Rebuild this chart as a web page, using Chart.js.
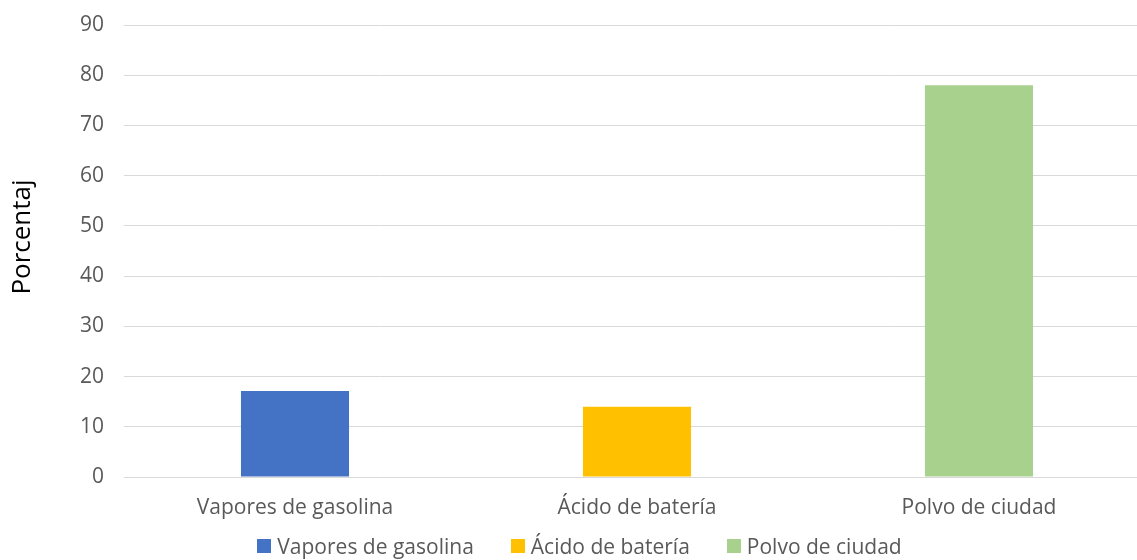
<!DOCTYPE html>
<html>
<head>
<meta charset="utf-8">
<script src="https://cdn.jsdelivr.net/npm/chart.js@4.4.1/dist/chart.umd.min.js"></script>
<style>
  html, body { margin: 0; padding: 0; background: #fff; overflow: hidden; }
  #wrap { width: 1158px; height: 560px; }
</style>
</head>
<body>
<div id="wrap"><canvas id="grafico"></canvas></div>
<script>
const categorias = ['Vapores de gasolina', 'Ácido de batería', 'Polvo de ciudad'];
const porcentajes = [17.1, 14, 78];
const colores = ['#4472c4', '#ffc000', '#a9d18e'];
const ticksY = [0, 10, 20, 30, 40, 50, 60, 70, 80, 90];
const tituloY = 'Porcentaj';

const gris = '#595959';
const fuente = 'Open Sans';

// legend and y title drawn by hand so they sit where Excel put them
const textosPropios = {
  id: 'textosPropios',
  afterDraw: function(chart) {
    const c = chart.ctx;
    const caja = 14, hueco = 6, separacion = 37;
    const centroX = 579.5, centroY = 548;
    c.save();
    c.font = '21px "' + fuente + '"';
    c.textBaseline = 'middle';
    c.textAlign = 'left';
    const anchos = categorias.map(function(t) { return c.measureText(t).width; });
    let total = separacion * (categorias.length - 1);
    anchos.forEach(function(w) { total += caja + hueco + w; });
    let x = centroX - total / 2;
    categorias.forEach(function(t, i) {
      c.fillStyle = colores[i];
      c.fillRect(Math.round(x), centroY - 9, caja, caja);
      x += caja + hueco;
      c.fillStyle = gris;
      c.fillText(t, x, centroY);
      x += anchos[i] + separacion;
    });
    c.restore();

    // vertical axis title
    c.save();
    c.translate(23, 237);
    c.rotate(-Math.PI / 2);
    c.font = '26px "' + fuente + '"';
    c.textAlign = 'center';
    c.textBaseline = 'middle';
    c.fillStyle = '#000';
    c.fillText(tituloY, 0, 0);
    c.restore();
  }
};

const ctx = document.getElementById('grafico').getContext('2d');
const barChart = new Chart(ctx, {
  type: 'bar',
  data: {
    labels: categorias,
    datasets: [{
      data: porcentajes,
      backgroundColor: colores,
      borderWidth: 0,
      categoryPercentage: 1,
      barPercentage: 0.316
    }]
  },
  options: {
    responsive: true,
    maintainAspectRatio: false,
    animation: false,
    layout: { padding: { top: 0, left: 0, right: 8, bottom: 36 } },
    plugins: {
      tooltip: { enabled: false },
      legend: { display: false }
    },
    scales: {
      x: {
        grid: { display: false, drawTicks: false },
        border: { display: false },
        afterFit: function(scale) {
          scale.height = 47;
        },
        ticks: {
          color: gris,
          padding: 18,
          maxRotation: 0,
          minRotation: 0,
          autoSkip: false,
          font: { family: fuente, size: 21 }
        }
      },
      y: {
        min: 0,
        max: 90,
        afterBuildTicks: function(scale) {
          scale.ticks = ticksY.map(function(v) { return { value: v }; });
        },
        afterFit: function(scale) {
          scale.width = 124;
          scale.paddingTop = 25;
          scale.paddingBottom = 0;
        },
        grid: { color: '#d9d9d9', lineWidth: 1, drawTicks: false },
        border: { display: false },
        ticks: {
          color: gris,
          padding: 20,
          font: { family: fuente, size: 21 }
        }
      }
    }
  },
  plugins: [textosPropios]
});
</script>
</body>
</html>
